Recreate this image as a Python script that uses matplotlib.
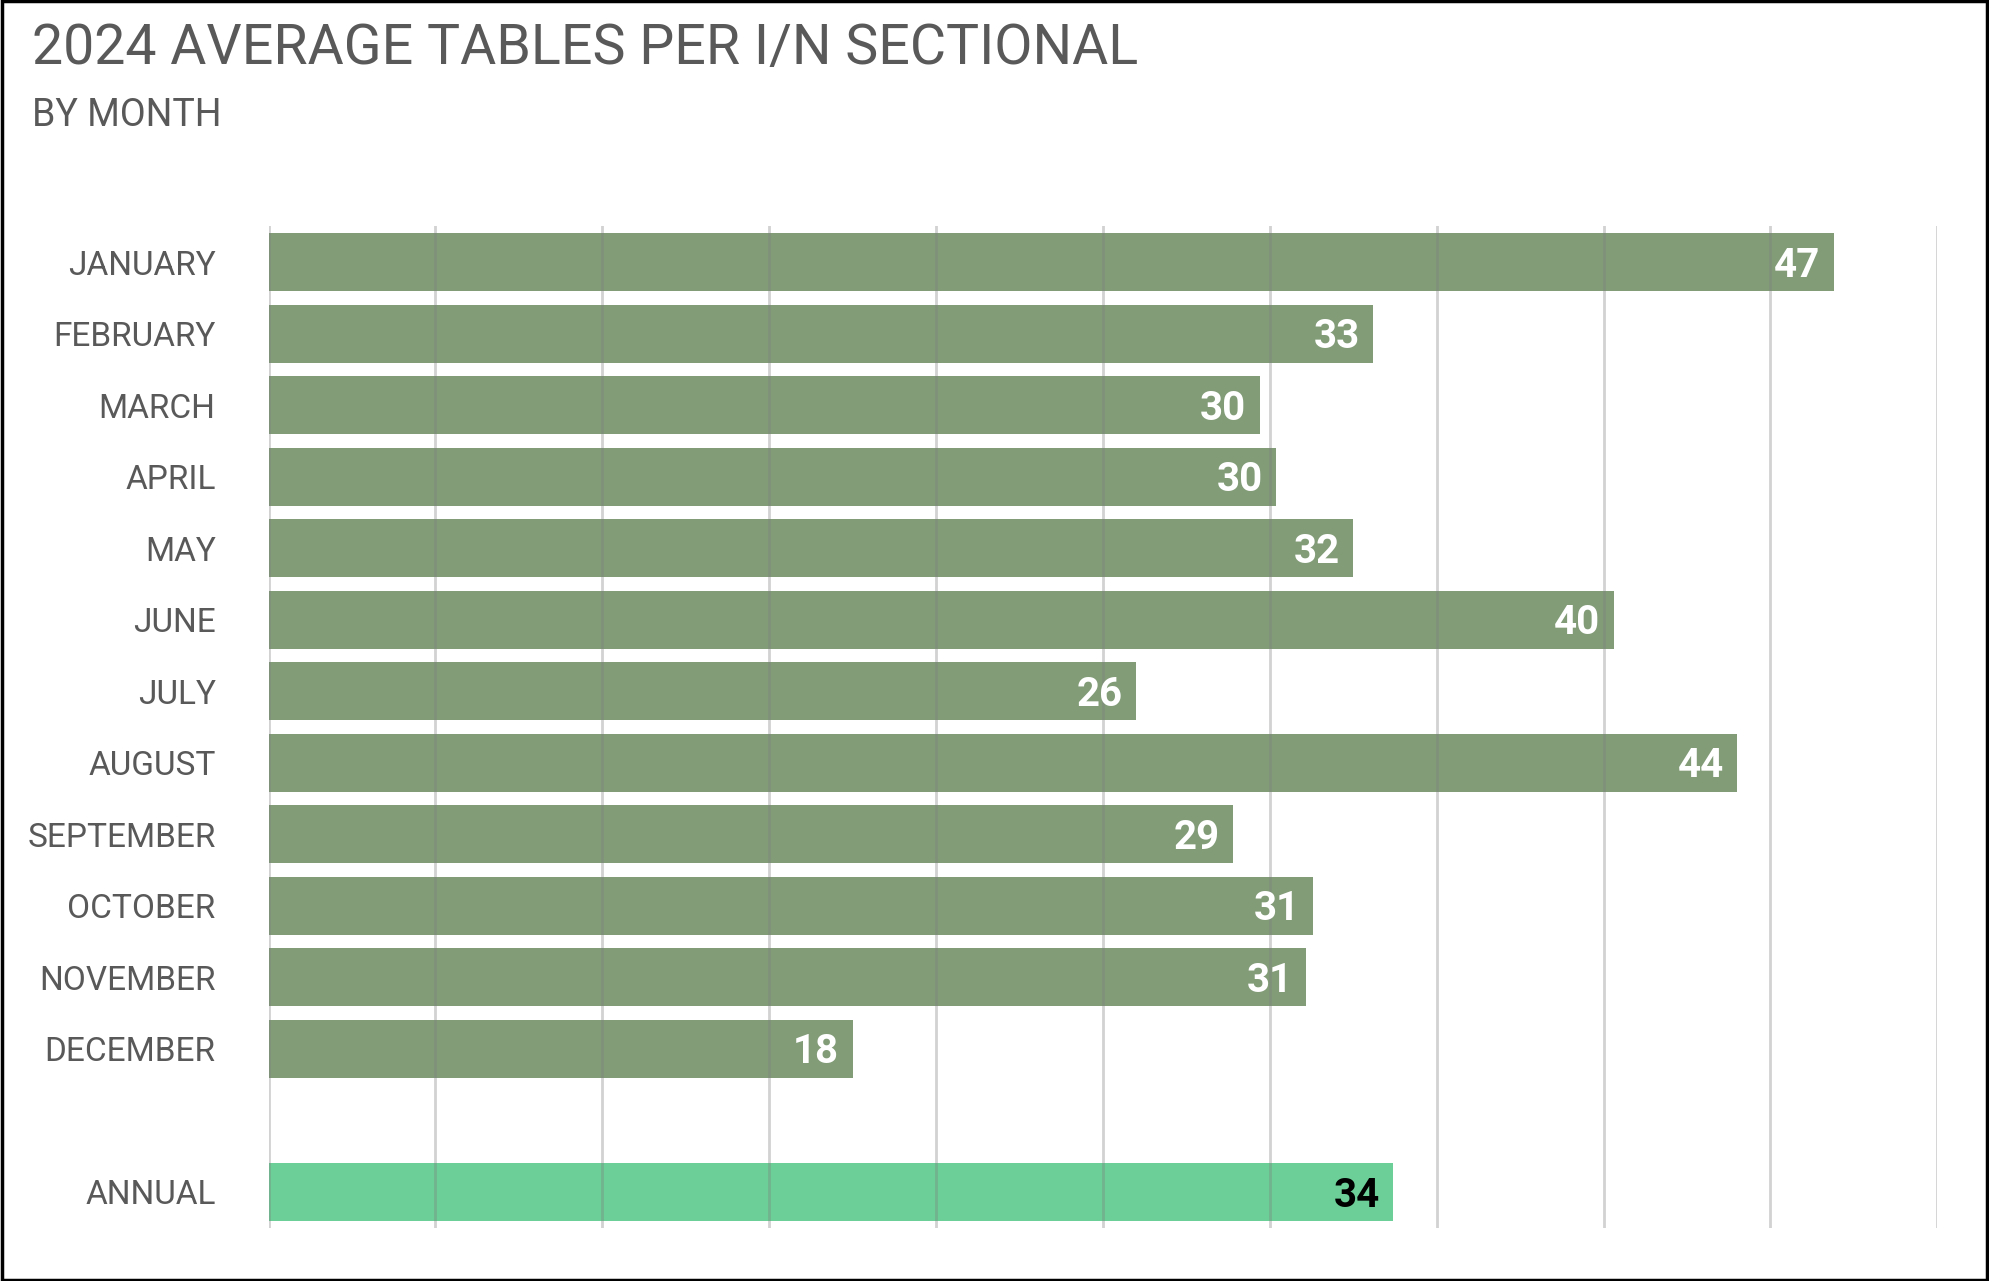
import matplotlib
matplotlib.use("Agg")
import matplotlib.pyplot as plt
from matplotlib.patches import Rectangle

months = ["JANUARY", "FEBRUARY", "MARCH", "APRIL", "MAY", "JUNE", "JULY",
          "AUGUST", "SEPTEMBER", "OCTOBER", "NOVEMBER", "DECEMBER"]
month_vals = [46.9, 33.1, 29.7, 30.2, 32.5, 40.3, 26.0, 44.0, 28.9, 31.3, 31.1, 17.5]
annual_label = "ANNUAL"
annual_val = 33.7

plt.rcParams["font.family"] = ["Roboto", "DejaVu Sans"]
GRAY = "#595959"

fig = plt.figure(figsize=(19.89, 12.81), dpi=100)
ax = fig.add_axes([0.135, 0.0416, 0.839, 0.7822])

pos = list(range(len(months)))
ax.barh(pos, month_vals, height=0.81, color="#829c78", zorder=1)
ax.barh([13], [annual_val], height=0.81, color="#6bcf97", zorder=1)

for y, v in zip(pos, month_vals):
    ax.text(v - 0.4, y + 0.05, f"{round(v)}", ha="right", va="center",
            color="white", fontsize=29, fontweight="bold", zorder=3)
ax.text(annual_val - 0.4, 13.05, f"{round(annual_val)}", ha="right", va="center",
        color="black", fontsize=29, fontweight="bold", zorder=3)

for x in range(0, 55, 5):
    ax.axvline(x, color="#7f7f7f", alpha=0.35, linewidth=2, zorder=2)

ax.set_xlim(0, 50)
ax.set_ylim(13.5, -0.51)
ax.set_yticks(pos + [13])
ax.set_yticklabels(months + [annual_label], fontsize=24, color=GRAY)
ax.tick_params(axis="y", length=0, pad=38)
ax.set_xticks([])
for s in ax.spines.values():
    s.set_visible(False)

fig.text(0.016, 0.962, "2024 AVERAGE TABLES PER I/N SECTIONAL", fontsize=40,
         color=GRAY, va="center")
fig.text(0.016, 0.91, "BY MONTH", fontsize=27, color=GRAY, va="center")

fig.patches.append(Rectangle((0.001, 0.001), 0.998, 0.998, transform=fig.transFigure,
                             fill=False, edgecolor="black", linewidth=2.5))

fig.savefig("out.png", dpi=100)
